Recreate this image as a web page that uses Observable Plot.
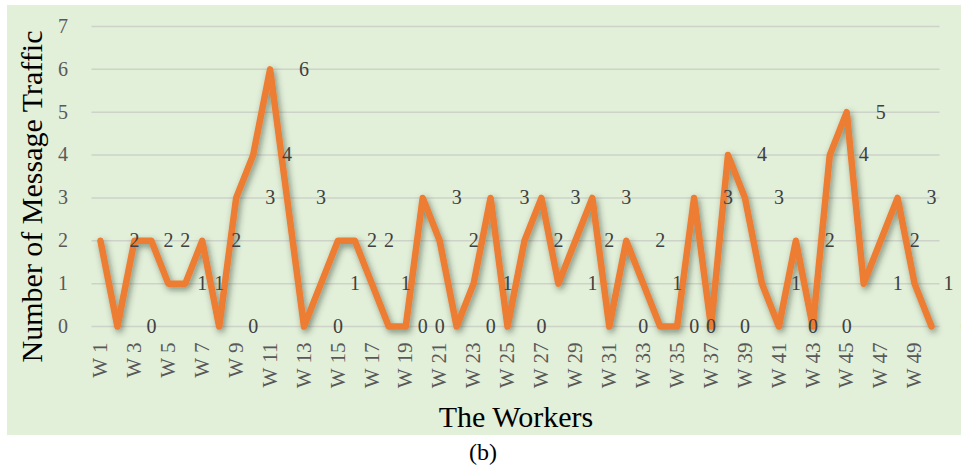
<!DOCTYPE html>
<html>
<head>
<meta charset="utf-8">
<script src="https://cdn.jsdelivr.net/npm/d3@7"></script>
<script src="https://cdn.jsdelivr.net/npm/@observablehq/plot@0.6"></script>
<style>
  html, body { margin: 0; padding: 0; background: #ffffff; }
  body { width: 961px; height: 468px; position: relative; overflow: hidden; font-family: "Liberation Serif", "DejaVu Serif", serif; }
  #panel { position: absolute; left: 7px; top: 5px; width: 954px; height: 430px; background: #E2EFD9; }
  #panel svg, #panel svg text { font-family: "Liberation Serif", serif !important; }
  #caption { position: absolute; left: 483px; top: 439px; transform: translateX(-50%); font-size: 24px; line-height: 26px; color: #000; }
</style>
</head>
<body>
<div id="panel"></div>
<div id="caption">(b)</div>
<script>
const workers = ["W 1","W 2","W 3","W 4","W 5","W 6","W 7","W 8","W 9","W 10",
  "W 11","W 12","W 13","W 14","W 15","W 16","W 17","W 18","W 19","W 20",
  "W 21","W 22","W 23","W 24","W 25","W 26","W 27","W 28","W 29","W 30",
  "W 31","W 32","W 33","W 34","W 35","W 36","W 37","W 38","W 39","W 40",
  "W 41","W 42","W 43","W 44","W 45","W 46","W 47","W 48","W 49","W 50"];
const traffic = [2,0,2,2,1,1,2,0,3,4,
  6,3,0,1,2,2,1,0,0,3,
  2,0,1,3,0,2,3,1,2,3,
  0,2,1,0,0,3,0,4,3,1,
  0,2,0,4,5,1,2,3,1,0];
const xTickLabels = ["W 1","W 3","W 5","W 7","W 9","W 11","W 13","W 15","W 17","W 19",
  "W 21","W 23","W 25","W 27","W 29","W 31","W 33","W 35","W 37","W 39",
  "W 41","W 43","W 45","W 47","W 49"];
const yTicks = [0,1,2,3,4,5,6,7];
const xTitle = "The Workers";
const yTitle = "Number of Message Traffic";

const data = workers.map((w, i) => ({worker: w, value: traffic[i]}));
const serif = "Liberation Serif";

const chart = Plot.plot({
  width: 954,
  height: 430,
  marginLeft: 84.5,
  marginRight: 21.5,
  marginTop: 21,
  marginBottom: 109,
  style: {background: "transparent", fontFamily: serif, overflow: "visible"},
  x: {type: "point", domain: workers, padding: 0.5},
  y: {domain: [0, 7]},
  marks: [
    Plot.ruleY(yTicks, {stroke: "#CDD3C8", strokeWidth: 1.5}),
    Plot.axisY({ticks: yTicks, tickFormat: d => String(d), tickSize: 0, tickPadding: 24, fontSize: 20, fontFamily: serif, color: "#595959", label: null}),
    Plot.axisX({ticks: xTickLabels, tickSize: 0, tickPadding: 16, tickRotate: -90, fontSize: 21, fontFamily: serif, color: "#595959", label: null}),
    Plot.line(data, {x: "worker", y: "value", stroke: "#ED7D31", strokeWidth: 6.5, strokeLinejoin: "round", strokeLinecap: "round"}),
    Plot.text(data, {x: "worker", y: "value", text: d => String(d.value), dx: 34, fontSize: 20, fontFamily: serif, fill: "#404040"}),
    Plot.text([xTitle], {text: d => d, frameAnchor: "bottom", textAnchor: "middle", lineAnchor: "middle", dy: 91, fontSize: 30, fontFamily: serif, fill: "#000"}),
    Plot.text([yTitle], {text: d => d, frameAnchor: "left", textAnchor: "middle", lineAnchor: "middle", rotate: -90, dx: -60, dy: 20, fontSize: 30, fontFamily: serif, fill: "#000"})
  ]
});

d3.select(chart).insert("defs", ":first-child").html(
  '<filter id="lineShadow" x="-10%" y="-20%" width="120%" height="140%">' +
  '<feDropShadow dx="2" dy="3" stdDeviation="3" flood-color="#2f3f2f" flood-opacity="0.55"/>' +
  '</filter>');
d3.select(chart).select('g[aria-label="line"]').attr("filter", "url(#lineShadow)");

document.getElementById("panel").appendChild(chart);
</script>
</body>
</html>
